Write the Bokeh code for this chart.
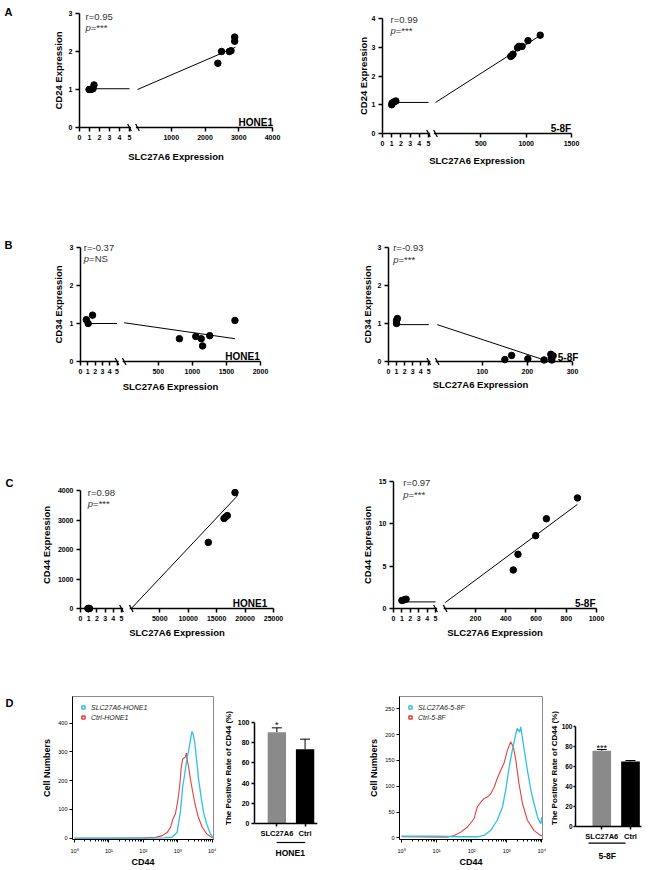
import json
import math
import numpy as np
from bokeh.plotting import figure
from bokeh.models import (Range1d, LinearAxis, FixedTicker, Legend, LegendItem,
                          ColumnDataSource, Whisker, TeeHead, CustomJSTickFormatter)
from bokeh.layouts import row, column
from bokeh.embed import file_html
from bokeh.resources import INLINE
from bokeh.core.properties import value

FONT = "Liberation Sans"

# ======================= DATA =======================
# Panel A: CD24 expression vs SLC27A6 expression
a_hone1_ctrl_x = [0.95, 1.15, 1.35, 1.45]
a_hone1_ctrl_y = [1.00, 1.00, 1.02, 1.12]
a_hone1_oe_x = [2380, 2490, 2720, 2770, 2880, 2880]
a_hone1_oe_y = [1.69, 2.00, 2.00, 2.02, 2.27, 2.38]
a_hone1_fit_ctrl_x = [0.9, 5.0]
a_hone1_fit_ctrl_y = [1.02, 1.02]
a_hone1_fit_oe_x = [0, 2900]
a_hone1_fit_oe_y = [1.00, 2.11]

a_58f_ctrl_x = [1.00, 1.05, 1.25, 1.45]
a_58f_ctrl_y = [1.00, 1.06, 1.10, 1.13]
a_58f_oe_x = [830, 845, 855, 905, 920, 955, 1020, 1155]
a_58f_oe_y = [2.68, 2.72, 2.76, 2.98, 3.03, 3.03, 3.23, 3.42]
a_58f_fit_ctrl_x = [1.0, 5.0]
a_58f_fit_ctrl_y = [1.08, 1.08]
a_58f_fit_oe_x = [0, 1160]
a_58f_fit_oe_y = [1.08, 3.42]

# Panel B: CD34 expression vs SLC27A6 expression
b_hone1_ctrl_x = [0.8, 1.05, 1.65]
b_hone1_ctrl_y = [1.10, 1.00, 1.22]
b_hone1_oe_x = [810, 1050, 1130, 1150, 1255, 1625]
b_hone1_oe_y = [0.60, 0.66, 0.60, 0.41, 0.68, 1.08]
b_hone1_fit_ctrl_x = [0.8, 5.0]
b_hone1_fit_ctrl_y = [1.00, 1.00]
b_hone1_fit_oe_x = [0, 1625]
b_hone1_fit_oe_y = [1.02, 0.60]

b_58f_ctrl_x = [1.0, 1.0, 1.1]
b_58f_ctrl_y = [1.00, 1.08, 1.13]
b_58f_oe_x = [150, 165, 201, 237, 252, 253, 254, 257]
b_58f_oe_y = [0.05, 0.16, 0.07, 0.04, 0.19, 0.10, 0.04, 0.15]
b_58f_fit_ctrl_x = [1.0, 5.0]
b_58f_fit_ctrl_y = [0.97, 0.97]
b_58f_fit_oe_x = [0, 240]
b_58f_fit_oe_y = [0.97, 0.03]

# Panel C: CD44 expression vs SLC27A6 expression
c_hone1_ctrl_x = [0.9, 1.0, 1.1]
c_hone1_ctrl_y = [1.0, 1.0, 1.0]
c_hone1_oe_x = [13540, 16300, 16580, 16880, 18230]
c_hone1_oe_y = [2240, 3050, 3100, 3150, 3930]
c_hone1_fit_ctrl_x = [1.0, 5.0]
c_hone1_fit_ctrl_y = [1.0, 1.0]
c_hone1_fit_oe_x = [0, 18750]
c_hone1_fit_oe_y = [0, 3840]

c_58f_ctrl_x = [1.0, 1.2, 1.5]
c_58f_ctrl_y = [0.95, 1.00, 1.10]
c_58f_oe_x = [450, 481, 598, 669, 874]
c_58f_oe_y = [4.55, 6.40, 8.60, 10.60, 13.06]
c_58f_fit_ctrl_x = [1.3, 5.0]
c_58f_fit_ctrl_y = [0.78, 0.78]
c_58f_fit_oe_x = [0, 874]
c_58f_fit_oe_y = [0.70, 12.30]

# Panel D: flow cytometry histograms (CD44 intensity vs cell numbers)
d_hone1_oe_x = [1, 10, 100, 400, 690, 955, 1200, 1380, 1585, 1860, 2050, 2290, 2570, 2750,
                3090, 3550, 3980, 4790, 5500, 6920, 8510, 9550, 10500]
d_hone1_oe_y = [0, 0, 0, 1, 4, 20, 95, 176, 222, 280, 302, 337, 371, 365,
                337, 268, 210, 141, 95, 49, 21, 9, 2]
d_hone1_ctrl_x = [1, 10, 100, 230, 355, 500, 617, 724, 851, 1000, 1150, 1260, 1380, 1510,
                  1660, 1780, 1905, 2050, 2290, 2690, 3180, 3980, 5130, 6920, 9550, 10500]
d_hone1_ctrl_y = [0, 0, 1, 3, 9, 21, 38, 67, 84, 130, 187, 245, 274, 279,
                  282, 297, 268, 251, 210, 164, 118, 72, 38, 15, 3, 1]

d_58f_oe_x = [1, 10, 50, 145, 224, 347, 537, 759, 933, 1175, 1445, 1820, 2000, 2340, 2510,
              3160, 3890, 4900, 6030, 7590, 9330, 10000]
d_58f_oe_y = [3, 3, 2, 2, 4.5, 14, 34, 60, 92, 137, 170, 202, 212, 205, 215,
              170, 131, 92, 66, 40, 27, 40]
d_58f_ctrl_x = [1, 20, 32, 49, 76, 117, 145, 182, 224, 282, 347, 437, 537, 676, 832, 1050,
                1290, 1550, 1820, 2240, 2820, 3890, 6030, 9330, 10000]
d_58f_ctrl_y = [2, 1, 4.5, 11, 21, 37, 60, 69, 76, 79, 85, 98, 115, 131, 144, 170,
                186, 176, 150, 105, 66, 34, 14, 4.5, 3]

# Panel D: positive rate of CD44 (%)
bar_categories = ["SLC27A6", "Ctrl"]
bar_hone1_mean = [90.4, 73.5]
bar_hone1_sd = [4.3, 10.0]
bar_hone1_sig = ["*", ""]
bar_58f_mean = [75.8, 65.0]
bar_58f_sd = [1.2, 1.0]
bar_58f_sig = ["***", ""]

# ======================= STYLE =======================
CYAN = "#2EC0E6"
RED = "#E4403C"
BAR_COLORS = ["#8A8A8A", "#000000"]
TXT = "#333333"


def style_axis(ax, size="7px", bold=True, tick_out=4, standoff=3, lw=1.5, lab_size="9.5px"):
    ax.axis_line_width = lw
    ax.axis_line_color = "black"
    ax.major_tick_line_width = lw
    ax.major_tick_line_color = "black"
    ax.major_tick_out = tick_out
    ax.major_tick_in = 0
    ax.minor_tick_line_color = None
    ax.major_label_text_font = FONT
    ax.major_label_text_font_size = size
    ax.major_label_text_font_style = "bold" if bold else "normal"
    ax.major_label_text_color = "black"
    ax.major_label_standoff = standoff
    ax.axis_label_text_font = FONT
    ax.axis_label_text_font_style = "bold"
    ax.axis_label_text_font_size = lab_size
    ax.axis_label_text_color = "black"


def base_fig(cv, fr, x_range, y_range, **kw):
    cx, cy, cw, ch = cv
    l, r, t, b = fr
    p = figure(width=cw, height=ch, x_range=x_range, y_range=y_range,
               output_backend="svg", toolbar_location=None,
               min_border_left=l - cx, min_border_right=cx + cw - r,
               min_border_top=t - cy, min_border_bottom=cy + ch - b, **kw)
    p.outline_line_color = None
    p.background_fill_color = "white"
    p.border_fill_color = "white"
    return p


def mapper(fr, x0, x1, y0, y1, logx=False):
    l, r, t, b = fr
    def px2x(px):
        if logx:
            a, c = math.log10(x0), math.log10(x1)
            return 10 ** (a + (px - l) * (c - a) / (r - l))
        return x0 + (px - l) * (x1 - x0) / (r - l)
    def px2y(py):
        return y0 + (b - py) * (y1 - y0) / (b - t)
    return px2x, px2y


def add_text(p, text, x, y, align="left", size="9.5px", style="normal", color=TXT,
             baseline="alphabetic"):
    p.text(x=[x], y=[y], text=[text], text_align=align, text_baseline=baseline,
           text_font=value(FONT), text_font_size=size, text_font_style=style,
           text_color=color, level="overlay")


def scatter_panel(spec, d):
    l, r, t, b = spec["fr"]
    xmax, ymax = spec["xmax"], spec["ymax"]
    yax, y0px, ympx = spec["yax_px"], spec["y0_px"], spec["ymax_px"]
    main0, seg5, xmpx = spec["main0"], spec["seg5"], spec["xmax_px"]
    ky = ymax / (y0px - ympx)
    ystart, yend = -(b - y0px) * ky, ymax + (ympx - t) * ky
    kx = xmax / (xmpx - main0)
    xstart, xend = -(main0 - l) * kx, xmax + (r - xmpx) * kx
    ks = 5.0 / (seg5 - yax)
    sstart, send = -(yax - l) * ks, 5.0 + (r - seg5) * ks
    p = base_fig(spec["cv"], spec["fr"], Range1d(xstart, xend), Range1d(ystart, yend),
                 x_axis_type=None, y_axis_type=None)
    p.extra_x_ranges = {"seg": Range1d(sstart, send)}
    px2x, px2y = mapper(spec["fr"], xstart, xend, ystart, yend)

    # broken x axis: ticks 0..5 of the low segment + ticks of the high segment
    seg_pos = [px2x(yax + v * (seg5 - yax) / 5.0) for v in range(6)]
    ticks = seg_pos + list(spec["xticks"])
    labels = [str(v) for v in range(6)] + [str(v) for v in spec["xticks"]]
    xa = LinearAxis(ticker=FixedTicker(ticks=ticks), bounds=(seg_pos[0], xmax),
                    axis_label="SLC27A6 Expression")
    if y0px != b:
        xa.fixed_location = 0
    xa.formatter = CustomJSTickFormatter(code=(
        "const pos=" + json.dumps(ticks) + "; const lab=" + json.dumps(labels) + ";"
        "let bi=0, bd=Infinity; for (let i=0;i<pos.length;i++){const dd=Math.abs(tick-pos[i]);"
        "if(dd<bd){bd=dd;bi=i;}} return lab[bi];"))
    style_axis(xa)
    xa.axis_label_standoff = spec["xlab_s"]
    p.add_layout(xa, "below")
    ya = LinearAxis(ticker=FixedTicker(ticks=spec["yticks"]), bounds=(0, ymax),
                    axis_label=spec["ylabel"])
    if yax != l:
        ya.fixed_location = seg_pos[0]
    style_axis(ya)
    ya.axis_label_standoff = spec["ylab_s"]
    p.add_layout(ya, "left")

    p.line(d["fc_x"], d["fc_y"], x_range_name="seg", line_color="black", line_width=1)
    p.line(d["fo_x"], d["fo_y"], line_color="black", line_width=1)
    p.scatter(d["c_x"], d["c_y"], x_range_name="seg", size=6.5, color="black", level="overlay")
    p.scatter(d["o_x"], d["o_y"], size=6.5, color="black", level="overlay")

    # gap in the axis line + break marks
    p.quad(left=[px2x(seg5 + 1.6)], right=[px2x(main0 - 1.6)], bottom=[px2y(y0px + 3)],
           top=[px2y(y0px - 3)], fill_color="white", line_color=None, level="overlay")
    p.scatter(x=[5], y=[0], x_range_name="seg", marker="dash", size=8, angle=-1.1,
              line_color="black", line_width=1.3, level="overlay")
    p.scatter(x=[0], y=[0], marker="dash", size=8, angle=-1.1,
              line_color="black", line_width=1.3, level="overlay")

    rx, ry = spec["r_pos"]
    add_text(p, d["r"], px2x(rx), px2y(ry))
    pyy = spec["p_y"]
    add_text(p, "p", px2x(rx), px2y(pyy), style="italic")
    add_text(p, "=" + d["p"], px2x(rx + 5.3), px2y(pyy))
    cxp, cyp, calign = spec["cell_pos"]
    add_text(p, d["cell"], px2x(cxp), px2y(cyp), align=calign, size="10px", style="bold",
             color="black")
    if spec.get("letter"):
        lt, lx, ly = spec["letter"]
        add_text(p, lt, px2x(lx), px2y(ly), size="11px", style="bold", color="black")
    return p


def hist_panel(spec, d):
    p = base_fig(spec["cv"], spec["fr"], Range1d(*spec["xr"]), Range1d(*spec["yr"]),
                 x_axis_type="log")
    p.grid.visible = False
    p.outline_line_color = "#8C8C8C"
    p.outline_line_width = 1
    xa = p.xaxis[0]
    style_axis(xa, size="5.5px", bold=False, tick_out=3, standoff=5, lw=1, lab_size="9px")
    xa.ticker = FixedTicker(ticks=[1, 10, 100, 1000, 10000],
                            minor_ticks=[m * 10 ** e for e in range(0, 4) for m in range(2, 10)])
    xa.minor_tick_line_color = "black"
    xa.minor_tick_out = 2
    xa.minor_tick_in = 0
    xa.formatter = CustomJSTickFormatter(
        code="const s=['\u2070','\u00b9','\u00b2','\u00b3','\u2074'];"
             "return '10' + s[Math.round(Math.log10(tick))];")
    xa.axis_label = "CD44"
    xa.axis_label_standoff = 0
    ya = p.yaxis[0]
    style_axis(ya, size="5.5px", bold=False, tick_out=3, standoff=2, lw=1, lab_size="9px")
    ya.ticker = FixedTicker(ticks=spec["yticks"])
    ya.axis_label = "Cell Numbers"
    ya.axis_label_standoff = spec["ylab_s"]

    p.line(d["ctrl_x"], d["ctrl_y"], line_color=RED, line_width=1.1)
    p.line(d["oe_x"], d["oe_y"], line_color=CYAN, line_width=1.3)
    # legend key glyphs (no data points of their own)
    r1 = p.scatter(x=np.array([np.nan]), y=np.array([np.nan]), marker="square", size=7,
                   fill_color="white", line_color=CYAN, line_width=1.5)
    r2 = p.scatter(x=np.array([np.nan]), y=np.array([np.nan]), marker="square", size=7,
                   fill_color="white", line_color=RED, line_width=1.5)
    leg = Legend(items=[LegendItem(label=d["oe_label"], renderers=[r1]),
                        LegendItem(label=d["ctrl_label"], renderers=[r2])],
                 location="top_left", border_line_alpha=0, background_fill_alpha=0,
                 label_text_font=FONT, label_text_font_size="7px",
                 label_text_font_style="italic", label_text_color="#222222",
                 glyph_width=8, glyph_height=8, label_height=8, label_standoff=4,
                 spacing=2, padding=2, margin=5)
    p.add_layout(leg)
    if spec.get("letter"):
        px2x, px2y = mapper(spec["fr"], spec["xr"][0], spec["xr"][1],
                            spec["yr"][0], spec["yr"][1], logx=True)
        lt, lx, ly = spec["letter"]
        add_text(p, lt, px2x(lx), px2y(ly), size="11px", style="bold", color="black")
    return p


def bar_panel(spec, cats, mean, sd, sig, group):
    idx = list(range(len(cats)))
    upper = [m + s for m, s in zip(mean, sd)]
    src = ColumnDataSource(dict(x=idx, top=mean, upper=upper, color=BAR_COLORS, sig=sig))
    p = base_fig(spec["cv"], spec["fr"], Range1d(*spec["xr"]), Range1d(*spec["yr"]),
                 x_axis_type=None, y_axis_type=None)
    p.vbar(x="x", top="top", bottom=0, width=0.65, fill_color="color", line_color=None,
           source=src)
    p.add_layout(Whisker(source=src, base="x", upper="upper", lower="top",
                         upper_head=TeeHead(size=10, line_width=1, line_color="black"),
                         lower_head=None, line_width=1, line_color="black"))
    p.text(x="x", y="upper", text="sig", source=src, text_align="center",
           text_baseline="alphabetic", text_font=value(FONT), text_font_size="9px",
           text_color="black", y_offset=spec["sig_off"], level="overlay")
    xa = LinearAxis(ticker=FixedTicker(ticks=idx), bounds=spec["xbounds"], fixed_location=0)
    style_axis(xa, size=spec["xfs"], bold=True, tick_out=3, standoff=2)
    xa.formatter = CustomJSTickFormatter(
        code="const c=" + json.dumps(cats) + "; const i=Math.round(tick);"
             " return (i>=0 && i<c.length) ? c[i] : '';")
    p.add_layout(xa, "below")
    ya = LinearAxis(ticker=FixedTicker(ticks=[0, 20, 40, 60, 80, 100]), bounds=(0, 100),
                    axis_label="The Positive Rate of CD44 (%)")
    style_axis(ya, size=spec["yfs"], bold=True, tick_out=spec["ytick"], standoff=spec["ystd"],
               lab_size="8px")
    ya.axis_label_standoff = spec["ylab_s"]
    p.add_layout(ya, "left")
    px2x, px2y = mapper(spec["fr"], spec["xr"][0], spec["xr"][1], spec["yr"][0], spec["yr"][1])
    yl = px2y(spec["line_py"])
    p.segment(x0=[px2x(spec["line_px"][0])], y0=[yl], x1=[px2x(spec["line_px"][1])], y1=[yl],
              line_color="black", line_width=1.2, level="overlay")
    gx, gy = spec["group_pos"]
    add_text(p, group, px2x(gx), px2y(gy), align="center", size="8.5px", style="bold",
             color="black")
    return p


# ======================= LAYOUT SPECS (page pixels) =======================
specA1 = dict(cv=(0, 0, 318, 210), fr=(40, 292, 3, 168), yax_px=79, y0_px=127, ymax_px=13,
              seg5=129, main0=137, xmax_px=272, xmax=4000, ymax=3,
              xticks=[1000, 2000, 3000, 4000], yticks=[0, 1, 2, 3], ylabel="CD24 Expression",
              xlab_s=8, ylab_s=2, r_pos=(85, 15.7), p_y=26.5,
              cell_pos=(272.5, 121.7, "right"), letter=("A", 4, 11.5))
specA2 = dict(cv=(318, 0, 332, 210), fr=(346, 592, 3, 168), yax_px=382, y0_px=133,
              ymax_px=18, seg5=428, main0=435, xmax_px=571, xmax=1500, ymax=4,
              xticks=[500, 1000, 1500], yticks=[0, 1, 2, 3, 4], ylabel="CD24 Expression",
              xlab_s=6, ylab_s=0, r_pos=(390, 19), p_y=29.5,
              cell_pos=(570.7, 127.7, "right"))
specB1 = dict(cv=(0, 210, 318, 215), fr=(80, 260, 247, 361), yax_px=80, y0_px=361,
              ymax_px=247, seg5=116.5, main0=123.7, xmax_px=260, xmax=2000, ymax=3,
              xticks=[500, 1000, 1500, 2000], yticks=[0, 1, 2, 3], ylabel="CD34 Expression",
              xlab_s=4, ylab_s=3, r_pos=(83.3, 246.7), p_y=258.3,
              cell_pos=(259.3, 356, "right"), letter=("B", 4, 244))
specB2 = dict(cv=(318, 210, 332, 215), fr=(388, 572, 247, 361), yax_px=388, y0_px=361,
              ymax_px=247, seg5=428.3, main0=436.7, xmax_px=572, xmax=300, ymax=3,
              xticks=[100, 200, 300], yticks=[0, 1, 2, 3], ylabel="CD34 Expression",
              xlab_s=2, ylab_s=2, r_pos=(392.7, 246.7), p_y=259,
              cell_pos=(557.3, 356.7, "left"))
specC1 = dict(cv=(0, 425, 318, 235), fr=(80, 273, 481, 608), yax_px=80, y0_px=608,
              ymax_px=490, seg5=121, main0=130.8, xmax_px=273, xmax=25000, ymax=4000,
              xticks=[5000, 10000, 15000, 20000, 25000], yticks=[0, 1000, 2000, 3000, 4000],
              ylabel="CD44 Expression", xlab_s=3, ylab_s=3, r_pos=(87.3, 492), p_y=503.3,
              cell_pos=(266.7, 603.3, "right"), letter=("C", 5, 482))
specC2 = dict(cv=(318, 425, 332, 235), fr=(393, 596, 481, 608), yax_px=393, y0_px=608,
              ymax_px=481, seg5=435, main0=444.7, xmax_px=596, xmax=1000, ymax=15,
              xticks=[200, 400, 600, 800, 1000], yticks=[0, 5, 10, 15],
              ylabel="CD44 Expression", xlab_s=3, ylab_s=3, r_pos=(402.7, 482.3), p_y=494,
              cell_pos=(595, 603.3, "right"))
specH1 = dict(cv=(0, 660, 220, 210), fr=(72, 213, 696, 839), xr=(0.875, 10910),
              yr=(-4.5, 493), yticks=[0, 100, 200, 300, 400], ylab_s=3,
              letter=("D", 5, 702))
# bar plots: frame shares top/bottom with the histograms; x axis sits at y = 0
specBar1 = dict(cv=(220, 660, 116, 210), fr=(253, 317, 696, 839), xr=(-0.792, 1.44),
                yr=(-(839 - 823) / 1.01, 100 + (722 - 696) / 1.01), xbounds=(-0.792, 1.44),
                xfs="7.5px", yfs="7px", ytick=3, ystd=2, ylab_s=2, sig_off=-3,
                line_px=(275.5, 304.5), line_py=842, group_pos=(289.3, 852.5))
specH2 = dict(cv=(336, 660, 210, 210), fr=(399, 542, 696, 839), xr=(0.877, 10470),
              yr=(-3.3, 274), yticks=[0, 50, 100, 150, 200, 250], ylab_s=3)
specBar2 = dict(cv=(546, 660, 104, 210), fr=(575, 645, 696, 839), xr=(-0.916, 1.523),
                yr=(-13, 130), xbounds=(-0.916, 1.383), xfs="7.5px", yfs="6.5px", ytick=2,
                ystd=1, ylab_s=0, sig_off=-2, line_px=(588, 625), line_py=842.7,
                group_pos=(606.7, 855))


def sdata(cx, cy, ox, oy, fcx, fcy, fox, foy, r, pval, cell):
    return dict(c_x=cx, c_y=cy, o_x=ox, o_y=oy, fc_x=fcx, fc_y=fcy, fo_x=fox, fo_y=foy,
                r=r, p=pval, cell=cell)


pA1 = scatter_panel(specA1, sdata(a_hone1_ctrl_x, a_hone1_ctrl_y, a_hone1_oe_x, a_hone1_oe_y,
                                  a_hone1_fit_ctrl_x, a_hone1_fit_ctrl_y, a_hone1_fit_oe_x,
                                  a_hone1_fit_oe_y, "r=0.95", "***", "HONE1"))
pA2 = scatter_panel(specA2, sdata(a_58f_ctrl_x, a_58f_ctrl_y, a_58f_oe_x, a_58f_oe_y,
                                  a_58f_fit_ctrl_x, a_58f_fit_ctrl_y, a_58f_fit_oe_x,
                                  a_58f_fit_oe_y, "r=0.99", "***", "5-8F"))
pB1 = scatter_panel(specB1, sdata(b_hone1_ctrl_x, b_hone1_ctrl_y, b_hone1_oe_x, b_hone1_oe_y,
                                  b_hone1_fit_ctrl_x, b_hone1_fit_ctrl_y, b_hone1_fit_oe_x,
                                  b_hone1_fit_oe_y, "r=-0.37", "NS", "HONE1"))
pB2 = scatter_panel(specB2, sdata(b_58f_ctrl_x, b_58f_ctrl_y, b_58f_oe_x, b_58f_oe_y,
                                  b_58f_fit_ctrl_x, b_58f_fit_ctrl_y, b_58f_fit_oe_x,
                                  b_58f_fit_oe_y, "r=-0.93", "***", "5-8F"))
pC1 = scatter_panel(specC1, sdata(c_hone1_ctrl_x, c_hone1_ctrl_y, c_hone1_oe_x, c_hone1_oe_y,
                                  c_hone1_fit_ctrl_x, c_hone1_fit_ctrl_y, c_hone1_fit_oe_x,
                                  c_hone1_fit_oe_y, "r=0.98", "***", "HONE1"))
pC2 = scatter_panel(specC2, sdata(c_58f_ctrl_x, c_58f_ctrl_y, c_58f_oe_x, c_58f_oe_y,
                                  c_58f_fit_ctrl_x, c_58f_fit_ctrl_y, c_58f_fit_oe_x,
                                  c_58f_fit_oe_y, "r=0.97", "***", "5-8F"))

pH1 = hist_panel(specH1, dict(oe_x=d_hone1_oe_x, oe_y=d_hone1_oe_y, ctrl_x=d_hone1_ctrl_x,
                              ctrl_y=d_hone1_ctrl_y, oe_label="SLC27A6-HONE1",
                              ctrl_label="Ctrl-HONE1"))
pBar1 = bar_panel(specBar1, bar_categories, bar_hone1_mean, bar_hone1_sd, bar_hone1_sig,
                  "HONE1")
pH2 = hist_panel(specH2, dict(oe_x=d_58f_oe_x, oe_y=d_58f_oe_y, ctrl_x=d_58f_ctrl_x,
                              ctrl_y=d_58f_ctrl_y, oe_label="SLC27A6-5-8F",
                              ctrl_label="Ctrl-5-8F"))
pBar2 = bar_panel(specBar2, bar_categories, bar_58f_mean, bar_58f_sd, bar_58f_sig, "5-8F")

layout = column(row(pA1, pA2), row(pB1, pB2), row(pC1, pC2), row(pH1, pBar1, pH2, pBar2))

open("out.html", "w").write(file_html(layout, INLINE))
